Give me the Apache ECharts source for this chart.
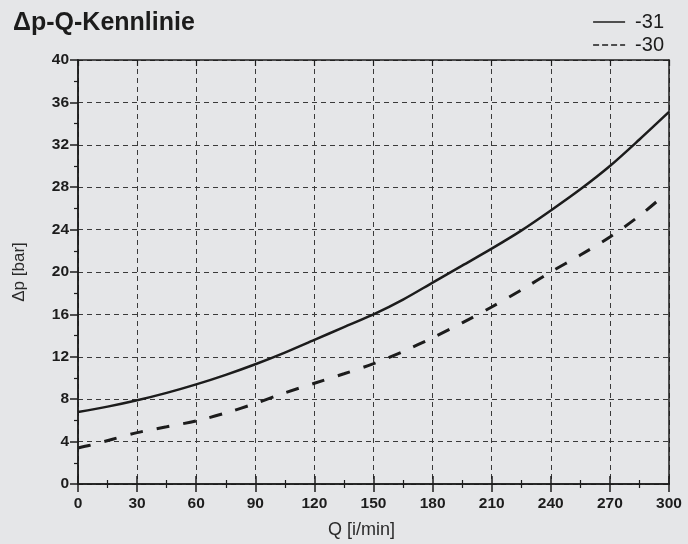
<!DOCTYPE html>
<html>
<head>
<meta charset="utf-8">
<script src="https://cdn.jsdelivr.net/npm/echarts@6/dist/echarts.min.js"></script>
<style>html,body{margin:0;padding:0;background:#e5e6e8;}#c{width:688px;height:544px;}</style>
</head>
<body>
<div id="c"></div>
<script>
const titleText = 'Δp-Q-Kennlinie';
const xName = 'Q [i/min]';
const yName = 'Δp [bar]';
const seriesNames = ['-31', '-30'];
const qSolid = [0,15,30,45,60,75,90,105,120,135,150,165,180,195,210,225,240,255,270,285,300];
const dpSolid = [6.8,7.3,7.9,8.6,9.4,10.3,11.3,12.4,13.6,14.8,16.0,17.4,19.0,20.6,22.2,23.9,25.8,27.8,30.0,32.5,35.1];
const qDashed = [0,6,18,30,45,60,75,90,105,120,135,150,165,180,195,210,225,240,255,270,285,296];
const dpDashed = [3.4,3.65,4.25,4.85,5.4,5.95,6.7,7.6,8.6,9.5,10.4,11.35,12.5,13.8,15.2,16.7,18.3,20.0,21.6,23.3,25.3,27.0];
const xMin = 0, xMax = 300, xStep = 30;
const yMin = 0, yMax = 40, yStep = 4;

const FONT = '"Liberation Sans", Arial, sans-serif';
const INK = '#1c1c1c';
const chart = echarts.init(document.getElementById('c'), null, {renderer: 'canvas'});

function pairs(xs, ys) { return xs.map((x, i) => [x, ys[i]]); }

const axisLine = {show: true, onZero: false, lineStyle: {color: INK, width: 1.5}};
const baseX = {type: 'value', min: xMin, max: xMax, interval: xStep};
const baseY = {type: 'value', min: yMin, max: yMax, interval: yStep};

chart.setOption({
  backgroundColor: '#e5e6e8',
  animation: false,
  title: {
    text: titleText, left: 8, top: 6,
    textStyle: {fontFamily: FONT, fontSize: 25, fontWeight: 'bold', color: INK}
  },
  legend: {
    orient: 'vertical', right: 19, top: 7, itemWidth: 32, itemHeight: 12, itemGap: 3,
    textStyle: {fontFamily: FONT, fontSize: 20, color: INK, padding: [0, 0, 0, 5]},
    itemStyle: {opacity: 0},
    lineStyle: {width: 1.5, color: INK},
    data: [{name: seriesNames[0]}, {name: seriesNames[1], lineStyle: {type: [6, 3], width: 1.5}}]
  },
  grid: {left: 78, right: 19, top: 60, bottom: 57, containLabel: false},
  xAxis: [
    Object.assign({}, baseX, {
      position: 'bottom', name: xName, nameLocation: 'middle', nameGap: 37,
      nameTextStyle: {fontFamily: FONT, fontSize: 18, color: '#2a2a2a', padding: [0, 24, 0, 0]},
      axisLine: axisLine,
      axisTick: {show: true, inside: false, length: 8, lineStyle: {color: INK, width: 1.5}},
      minorTick: {show: true, splitNumber: 2, length: 4, lineStyle: {color: INK, width: 1.2}},
      axisLabel: {margin: 12, fontFamily: FONT, fontSize: 15.5, fontWeight: 'bold', color: INK},
      splitLine: {show: true, lineStyle: {color: '#3a3a3a', width: 1, type: [5, 4]}}
    }),
    Object.assign({}, baseX, {
      position: 'bottom', axisLine: axisLine,
      axisTick: {show: true, inside: true, length: 8, lineStyle: {color: INK, width: 1.5}},
      minorTick: {show: true, splitNumber: 2, length: 4, lineStyle: {color: INK, width: 1.2}},
      axisLabel: {show: false}, splitLine: {show: false}
    }),
    Object.assign({}, baseX, {
      position: 'top', axisLine: axisLine,
      axisTick: {show: true, inside: true, length: 6, lineStyle: {color: INK, width: 1.2}},
      axisLabel: {show: false}, splitLine: {show: false}
    })
  ],
  yAxis: [
    Object.assign({}, baseY, {
      position: 'left', name: yName, nameLocation: 'middle', nameGap: 50,
      nameTextStyle: {fontFamily: FONT, fontSize: 17, color: '#2a2a2a'},
      axisLine: axisLine,
      axisTick: {show: true, inside: false, length: 8, lineStyle: {color: INK, width: 1.5}},
      axisLabel: {margin: 9, fontFamily: FONT, fontSize: 15.5, fontWeight: 'bold', color: INK},
      splitLine: {show: true, lineStyle: {color: '#3a3a3a', width: 1, type: [5, 4]}}
    }),
    Object.assign({}, baseY, {
      position: 'left', axisLine: axisLine,
      axisTick: {show: false},
      minorTick: {show: true, splitNumber: 2, length: 4, lineStyle: {color: INK, width: 1.2}},
      axisLabel: {show: false}, splitLine: {show: false}
    }),
    Object.assign({}, baseY, {
      position: 'right', axisLine: axisLine,
      axisTick: {show: false},
      axisLabel: {show: false}, splitLine: {show: false}
    })
  ],
  series: [
    {
      name: seriesNames[0], type: 'line', xAxisIndex: 0, yAxisIndex: 0,
      data: pairs(qSolid, dpSolid), smooth: 0.3, symbol: 'none',
      lineStyle: {color: INK, width: 2.5}, itemStyle: {color: INK}
    },
    {
      name: seriesNames[1], type: 'line', xAxisIndex: 0, yAxisIndex: 0,
      data: pairs(qDashed, dpDashed), smooth: 0.3, symbol: 'none',
      lineStyle: {color: INK, width: 3, type: [13, 14]}, itemStyle: {color: INK}
    }
  ]
});
</script>
</body>
</html>
